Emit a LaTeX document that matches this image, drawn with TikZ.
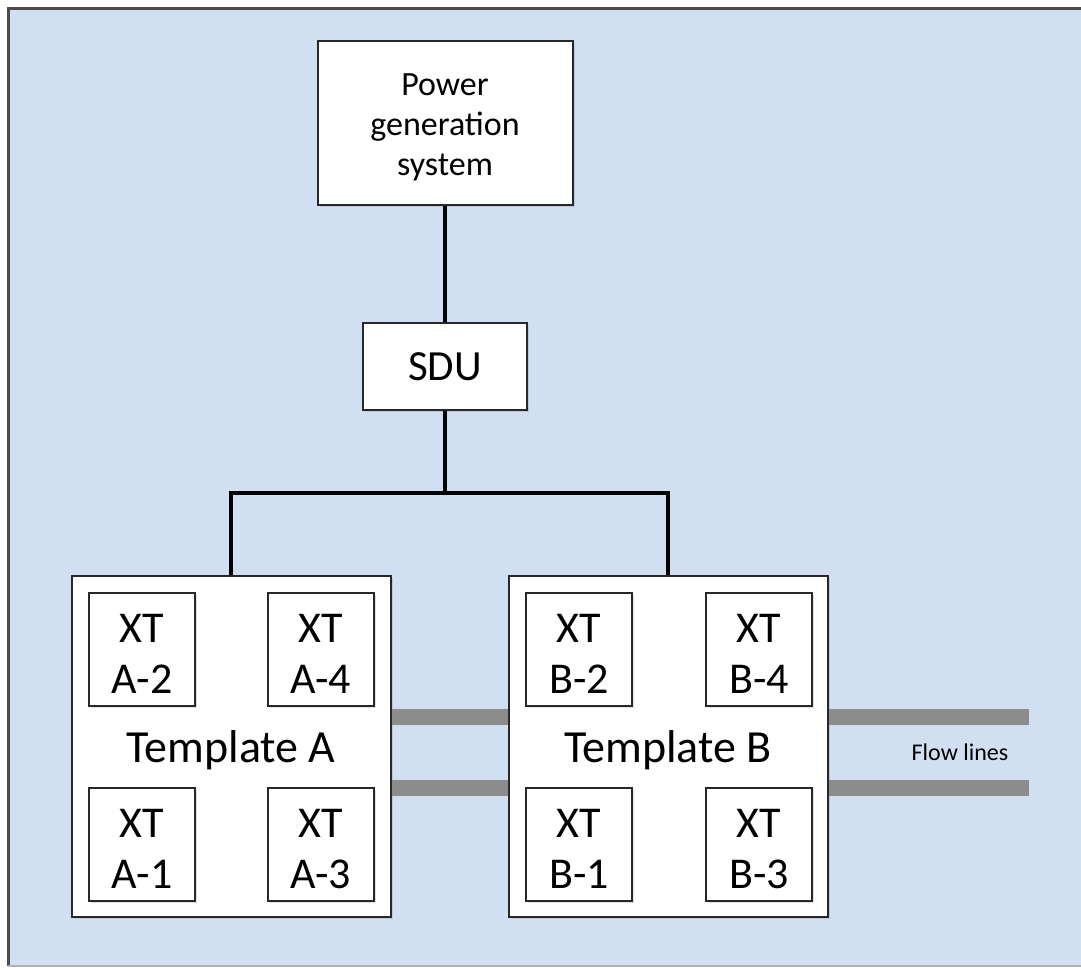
\documentclass[tikz,border=0pt]{standalone}
\usepackage{fontspec}
\setmainfont{Carlito}
\usetikzlibrary{shadows}
\definecolor{bgblue}{RGB}{208,223,241}
\definecolor{boxline}{RGB}{40,40,40}
\definecolor{flowgray}{RGB}{140,140,140}
\newcommand\mylab[2]{\raisebox{#1}[\height][\depth]{\begin{tabular}{@{}c@{}}#2\end{tabular}}}
\newcommand\xtlab[1]{\mylab{-8pt}{XT\\#1}}
\begin{document}
\begin{tikzpicture}[x=1pt,y=-1pt,
 box/.style={draw=boxline,line width=2pt,fill=white,inner sep=0pt,align=center,
   drop shadow={shadow xshift=2pt,shadow yshift=-2pt,opacity=0.25}},
 xt/.style={box,minimum width=106pt,minimum height=113pt,font=\fontsize{44}{51}\selectfont},
 tmpl/.style={box,minimum width=319pt,minimum height=341pt},
 tlabel/.style={font=\fontsize{46}{50}\selectfont,inner sep=0pt},
 conn/.style={line width=4pt,black,line join=miter},
 flow/.style={line width=16pt,flowgray}]
\useasboundingbox (0,0) rectangle (1081,967);
\fill[bgblue] (8,8) rectangle (1081,966);
\draw[gray!60!black,line width=3pt] (1081,8) -- (8,8) -- (8,966);
\draw[gray!60,line width=2pt] (8,966) -- (1081,966);

\node[box,minimum width=255pt,minimum height=164pt,font=\fontsize{34}{40}\selectfont] (pgs) at (445,123) {\mylab{-4pt}{Power\\generation\\system}};
\node[box,minimum width=164pt,minimum height=87pt,font=\fontsize{43}{48}\selectfont] (sdu) at (445,366.5) {SDU};

\node[tmpl] (ta) at (231,746) {};
\node[tmpl] (tb) at (668,746) {};
\node[tlabel] (tal) at (231,750) {Template A};
\node[tlabel] (tbl) at (668,750) {Template B};

\node[xt] (a2) at (142,649.5) {\xtlab{A-2}};
\node[xt] (a4) at (320.5,649.5) {\xtlab{A-4}};
\node[xt] (a1) at (142,844.5) {\xtlab{A-1}};
\node[xt] (a3) at (320.5,844.5) {\xtlab{A-3}};
\node[xt] (b2) at (579,649.5) {\xtlab{B-2}};
\node[xt] (b4) at (759,649.5) {\xtlab{B-4}};
\node[xt] (b1) at (579,844.5) {\xtlab{B-1}};
\node[xt] (b3) at (759,844.5) {\xtlab{B-3}};

\coordinate (j) at (445,493);
\draw[conn] (pgs.south) -- (sdu.north);
\draw[conn] (sdu.south) -- (j);
\draw[conn] (ta.north) |- (j) -| (tb.north);

\coordinate (f1) at (0,717);
\coordinate (f2) at (0,788);
\coordinate (fe1) at (1029,717);
\coordinate (fe2) at (1029,788);
\draw[flow] (ta.east |- f1) -- (tb.west |- f1);
\draw[flow] (ta.east |- f2) -- (tb.west |- f2);
\draw[flow] (tb.east |- f1) -- (fe1);
\draw[flow] (tb.east |- f2) -- (fe2);
\node[font=\fontsize{24}{26}\selectfont,inner sep=0pt] (fl) at (960,752) {Flow lines};
\end{tikzpicture}
\end{document}
